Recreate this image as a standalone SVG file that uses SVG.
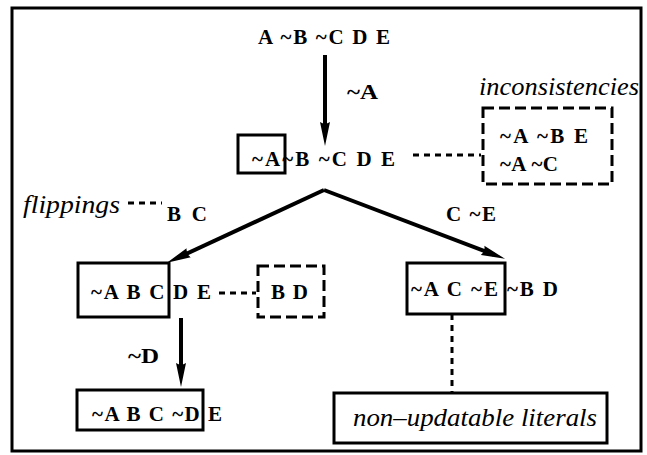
<svg xmlns="http://www.w3.org/2000/svg" width="647" height="455" viewBox="0 0 647 455">
<style>
.t{font-family:"Liberation Serif","Times New Roman","DejaVu Serif",serif;font-weight:bold;font-size:21px;fill:#000}
.i{font-family:"Liberation Serif","Times New Roman","DejaVu Serif",serif;font-style:italic;font-size:25px;fill:#000}
.box{fill:none;stroke:#000;stroke-width:3}
.dbox{fill:none;stroke:#000;stroke-width:3;stroke-dasharray:11 5}
.dl{fill:none;stroke:#000;stroke-width:3;stroke-dasharray:6 5}
.arr{fill:none;stroke:#000;stroke-width:4;marker-end:url(#ah)}
</style>
<defs>
<marker id="ah" markerUnits="userSpaceOnUse" markerWidth="26" markerHeight="12" refX="12" refY="6" orient="auto">
<path d="M0,1 L24,6 L0,11 Q3,6 0,1Z" fill="#000"/>
</marker>
</defs>
<rect x="12" y="8" width="629" height="443" fill="none" stroke="#000" stroke-width="3"/>
<g id="connectors">
<line class="arr" x1="325" y1="55" x2="325" y2="134"/>
<line class="arr" x1="324" y1="190" x2="177.8" y2="257.8"/>
<line class="arr" x1="324" y1="190" x2="493.8" y2="254.6"/>
<line class="arr" x1="181" y1="318" x2="181" y2="375"/>
<line class="dl" x1="413" y1="155" x2="481" y2="155"/>
<line class="dl" x1="128" y1="203" x2="162" y2="203"/>
<line class="dl" x1="219" y1="293" x2="256" y2="293"/>
<line class="dl" x1="452" y1="314" x2="452" y2="392"/>
<text class="t" x="347" y="99" textLength="31" lengthAdjust="spacingAndGlyphs">~A</text>
<text class="t" x="446" y="221" textLength="50" lengthAdjust="spacing">C ~E</text>
<text class="t" x="128" y="363" textLength="31" lengthAdjust="spacingAndGlyphs">~D</text>
</g>
<g id="root">
<text class="t" x="258" y="44" textLength="132" lengthAdjust="spacing">A ~B ~C D E</text>
</g>
<g id="node-a">
<rect class="box" x="238" y="135" width="47" height="38"/>
<text class="t" x="252" y="166" textLength="143" lengthAdjust="spacing">~A~B ~C D E</text>
</g>
<g id="inconsistencies">
<text class="i" x="479" y="95" textLength="160" lengthAdjust="spacingAndGlyphs">inconsistencies</text>
<rect class="dbox" x="483" y="108" width="129" height="76"/>
<text class="t" x="500" y="143" textLength="88" lengthAdjust="spacing">~A ~B E</text>
<text class="t" x="500" y="171" textLength="58" lengthAdjust="spacing">~A ~C</text>
</g>
<g id="flippings">
<text class="i" x="23" y="213" textLength="97" lengthAdjust="spacingAndGlyphs">flippings</text>
<text class="t" x="167" y="221" textLength="40" lengthAdjust="spacing">B C</text>
</g>
<g id="node-left">
<rect class="box" x="78" y="263" width="91" height="54"/>
<text class="t" x="91" y="299" textLength="120" lengthAdjust="spacing">~A B C D E</text>
</g>
<g id="node-bd">
<rect class="dbox" x="258" y="266" width="66" height="51"/>
<text class="t" x="271" y="299" textLength="37" lengthAdjust="spacing">B D</text>
</g>
<g id="node-right">
<rect class="box" x="407" y="263" width="98" height="51"/>
<text class="t" x="411" y="296" textLength="147" lengthAdjust="spacing">~A C ~E ~B D</text>
</g>
<g id="node-bottom-left">
<rect class="box" x="77" y="390" width="126" height="40"/>
<text class="t" x="92" y="421" textLength="130" lengthAdjust="spacing">~A B C ~D E</text>
</g>
<g id="non-updatable">
<rect class="box" x="334" y="393" width="273" height="50"/>
<text class="i" x="353" y="426" textLength="244" lengthAdjust="spacingAndGlyphs">non–updatable literals</text>
</g>
</svg>
